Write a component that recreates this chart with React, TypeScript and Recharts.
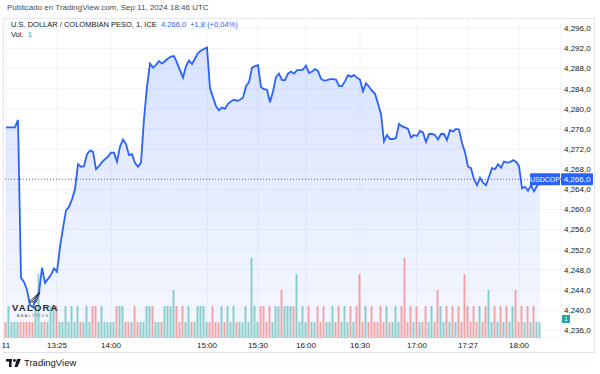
import React from 'react';
import { ComposedChart, Area, Line, Bar, Cell, XAxis, YAxis, CartesianGrid, ReferenceLine } from 'recharts';

// USD/COP 1-minute closes, sampled along the session (left to right)
const prices = [
  4276.3, 4276.3, 4276.3, 4276.3, 4277.8, 4246.4, 4245.6, 4244.0, 4241.0, 4240.5,
  4242.5, 4243.5, 4248.4, 4245.4, 4246.2, 4247.0, 4248.3, 4247.6, 4252.6, 4256.3,
  4259.8, 4260.5, 4262.0, 4264.0, 4269.0, 4268.5, 4268.6, 4271.0, 4271.7, 4271.5,
  4268.0, 4268.6, 4269.4, 4270.0, 4270.5, 4271.3, 4271.3, 4269.5, 4272.5, 4273.9,
  4273.0, 4270.8, 4271.0, 4269.2, 4268.5, 4269.3, 4278.0, 4284.4, 4289.0, 4288.2,
  4288.7, 4289.5, 4289.0, 4289.5, 4290.0, 4290.4, 4290.5, 4289.2, 4287.7, 4286.2,
  4288.5, 4289.6, 4288.9, 4290.0, 4291.1, 4291.6, 4291.9, 4292.2, 4284.1, 4282.3,
  4280.5, 4279.7, 4280.3, 4280.0, 4281.0, 4281.5, 4281.8, 4281.6, 4281.8, 4282.2,
  4284.5, 4285.3, 4288.2, 4288.5, 4288.7, 4284.3, 4283.9, 4283.8, 4281.3, 4283.5,
  4286.3, 4287.0, 4285.7, 4285.7, 4287.0, 4287.4, 4287.0, 4287.7, 4287.7, 4287.8,
  4288.6, 4287.1, 4287.4, 4287.9, 4287.5, 4286.0, 4285.6, 4285.7, 4285.9, 4285.9,
  4285.8, 4284.5, 4284.5, 4285.5, 4286.7, 4286.4, 4286.7, 4286.2, 4285.8, 4283.5,
  4285.1, 4284.4, 4283.6, 4283.0, 4281.0, 4279.0, 4273.5, 4274.8, 4274.0, 4274.0,
  4274.2, 4277.0, 4276.5, 4276.3, 4276.0, 4274.3, 4274.8, 4274.6, 4275.6, 4275.3,
  4273.4, 4275.0, 4275.0, 4274.8, 4273.9, 4275.0, 4275.0, 4273.8, 4275.8, 4275.5,
  4276.0, 4275.9, 4273.2, 4271.4, 4268.5, 4268.2, 4266.0, 4264.8, 4266.3, 4265.3,
  4264.8, 4266.5, 4268.2, 4268.0, 4269.0, 4268.3, 4269.5, 4269.3, 4269.4, 4269.8,
  4269.5, 4268.6, 4264.2, 4264.5, 4263.7, 4264.8, 4263.6, 4264.7, 4266.0,
];

const volumes = [
  1, 2, 1, 1, 1, 1, 1, 1, 1, 1,
  2, 4, 1, 1, 1, 2, 2, 2, 1, 1,
  2, 1, 2, 1, 2, 1, 1, 2, 1, 2,
  2, 1, 2, 1, 1, 1, 1, 2, 2, 2,
  1, 1, 1, 2, 1, 1, 1, 2, 2, 2,
  1, 1, 1, 2, 2, 2, 3, 2, 1, 2,
  1, 2, 1, 1, 2, 2, 2, 1, 1, 2,
  1, 1, 2, 1, 2, 1, 2, 1, 1, 1,
  2, 1, 5, 2, 1, 2, 2, 1, 2, 1,
  2, 2, 3, 2, 2, 2, 2, 4, 1, 2,
  1, 2, 1, 1, 2, 1, 2, 1, 1, 2,
  1, 2, 1, 2, 1, 2, 1, 2, 4, 1,
  2, 1, 2, 1, 1, 2, 1, 2, 1, 1,
  2, 1, 2, 5, 1, 2, 1, 2, 1, 1,
  2, 1, 2, 1, 3, 2, 1, 2, 1, 2,
  1, 2, 1, 4, 2, 1, 2, 1, 2, 1,
  2, 3, 1, 2, 1, 2, 1, 2, 1, 2,
  3, 1, 2, 1, 2, 1, 2, 1, 1,
];

const timeLabels = ['11', '13:25', '14:00', '15:00', '15:30', '16:00', '16:30', '17:00', '17:27', '18:00'];
const timeTickIdx = [0, 17, 35, 67, 84, 100, 118, 137, 154, 171];
const priceTicks = [4236, 4240, 4244, 4248, 4252, 4256, 4260, 4264, 4268, 4272, 4276, 4280, 4284, 4288, 4292, 4296];

const symbol = 'USDCOP';
const lastPrice = prices[prices.length - 1];
const lastVol = volumes[volumes.length - 1];

const BLUE = '#2962ff';
const UP = 'rgba(38,166,154,0.5)';
const DOWN = 'rgba(239,83,80,0.5)';
const FONT = '"Liberation Sans", Arial, sans-serif';

const data = prices.map((p, i) => ({
  i,
  price: p,
  vol: volumes[i],
  up: i === 0 ? false : p >= prices[i - 1],
}));

const fmt = (v: number) => {
  const [a, b] = v.toFixed(1).split('.');
  return a.slice(0, 1) + ',' + a.slice(1) + ',' + b;
};

const timeFmt = (v: number) => {
  const k = timeTickIdx.indexOf(v);
  return k >= 0 ? timeLabels[k] : '';
};

const PriceBadge = (props: any) => {
  const { viewBox } = props;
  const right = viewBox.x + viewBox.width;
  const y = viewBox.y;
  return (
    <g>
      <rect x={right - 31} y={y - 6} width={30} height={12} fill={BLUE} rx={1} />
      <text x={right - 16} y={y} dy="0.35em" textAnchor="middle" fill="#fff" fontSize={7} fontFamily={FONT}>{symbol}</text>
      <rect x={right} y={y - 6} width={32} height={12} fill={BLUE} rx={1} />
      <text x={right + 16} y={y} dy="0.35em" textAnchor="middle" fill="#fff" fontSize={8} fontFamily={FONT}>{fmt(lastPrice)}</text>
    </g>
  );
};

const VolBadge = (props: any) => {
  const { viewBox } = props;
  const right = viewBox.x + viewBox.width;
  const y = viewBox.y - 3;
  return (
    <g>
      <rect x={right + 1} y={y - 4} width={8} height={8} fill="#26a69a" />
      <text x={right + 5} y={y} dy="0.35em" textAnchor="middle" fill="#fff" fontSize={6} fontFamily={FONT}>{lastVol}</text>
    </g>
  );
};

export default function App() {
  return (
    <div style={{ position: 'absolute', left: 0, top: 0, width: 600, height: 374, background: '#fff', fontFamily: FONT, overflow: 'hidden' }}>
      <div style={{ position: 'absolute', left: 7, top: 3, fontSize: 8, color: '#4a4a4a' }}>
        Publicado en TradingView.com, Sep 11, 2024 18:46 UTC
      </div>
      <div style={{ position: 'absolute', left: 3, top: 18, width: 592, height: 335, border: '1px solid #e0e3eb', boxSizing: 'border-box' }} />
      <ComposedChart width={600} height={374} data={data} margin={{ top: 18, right: 5, left: 3, bottom: 20 }}>
        <defs>
          <linearGradient id="areaFill" x1="0" y1="0" x2="0" y2="1">
            <stop offset="0%" stopColor={BLUE} stopOpacity={0.3} />
            <stop offset="100%" stopColor={BLUE} stopOpacity={0.07} />
          </linearGradient>
        </defs>
        <CartesianGrid stroke="#f0f3fa" yAxisId="price" />
        <XAxis
          dataKey="i"
          type="number"
          domain={[-1, 185]}
          ticks={timeTickIdx}
          tickFormatter={timeFmt}
          axisLine={false}
          tickLine={false}
          tickSize={0}
          tickMargin={4}
          height={16}
          interval={0}
          tick={{ fontSize: 8, fill: '#131722', fontFamily: FONT }}
        />
        <YAxis
          yAxisId="price"
          orientation="right"
          type="number"
          domain={[4234.44, 4298.06]}
          allowDataOverflow
          ticks={priceTicks}
          tickFormatter={fmt}
          axisLine={false}
          tickLine={false}
          tickSize={0}
          tickMargin={3}
          width={34}
          interval={0}
          tick={{ fontSize: 8, fill: '#131722', fontFamily: FONT, textAnchor: 'start' }}
        />
        <YAxis yAxisId="vol" hide domain={[0, 20]} allowDataOverflow />
        <Area yAxisId="price" dataKey="price" stroke="none" fill="url(#areaFill)" isAnimationActive={false} />
        <Bar yAxisId="vol" dataKey="vol" barSize={2} isAnimationActive={false}>
          {data.map((d, idx) => (
            <Cell key={`v-${idx}`} fill={d.up ? UP : DOWN} />
          ))}
        </Bar>
        <Line yAxisId="price" dataKey="price" type="linear" stroke={BLUE} strokeWidth={1.8} dot={false} isAnimationActive={false} />
        <ReferenceLine yAxisId="price" y={lastPrice} stroke={BLUE} strokeDasharray="1 2" strokeWidth={1} label={PriceBadge} />
        <ReferenceLine yAxisId="vol" y={lastVol} stroke="none" label={VolBadge} />
      </ComposedChart>
      <div style={{ position: 'absolute', left: 11, top: 20, fontSize: 7.5, color: '#131722', whiteSpace: 'nowrap' }}>
        U.S. DOLLAR / COLOMBIAN PESO, 1, ICE&nbsp;&nbsp;<span style={{ color: BLUE }}>4.266,0&nbsp;&nbsp;+1,8 (+0,04%)</span>
      </div>
      <div style={{ position: 'absolute', left: 11, top: 30, fontSize: 7.5, color: '#131722', whiteSpace: 'nowrap' }}>
        Vol.&nbsp;&nbsp;<span style={{ color: '#26a69a' }}>1</span>
      </div>
      <div style={{ position: 'absolute', left: 12, top: 302, fontSize: 9.5, fontWeight: 700, letterSpacing: 1.2, color: '#2a2a2a' }}>VALORA</div>
      <div style={{ position: 'absolute', left: 17, top: 314, fontSize: 3.5, letterSpacing: 1.5, color: '#444' }}>ANALYTICS</div>
      <svg style={{ position: 'absolute', left: 28, top: 290 }} width={14} height={14}>
        <polygon points="1,12 12,2 8,12" fill="none" stroke="#333" strokeWidth={1} />
        <line x1={4} y1={11} x2={10} y2={5} stroke="#333" strokeWidth={0.8} />
      </svg>
      <svg style={{ position: 'absolute', left: 6, top: 359 }} width={16} height={9}>
        <rect x={0} y={0} width={6} height={2.5} fill="#131722" />
        <rect x={3} y={0} width={2.5} height={8} fill="#131722" />
        <circle cx={8.5} cy={1.5} r={1.4} fill="#131722" />
        <polygon points="11,0 15,0 11.5,8 8.5,8" fill="#131722" />
      </svg>
      <div style={{ position: 'absolute', left: 24, top: 357, fontSize: 9.5, color: '#131722' }}>TradingView</div>
    </div>
  );
}
